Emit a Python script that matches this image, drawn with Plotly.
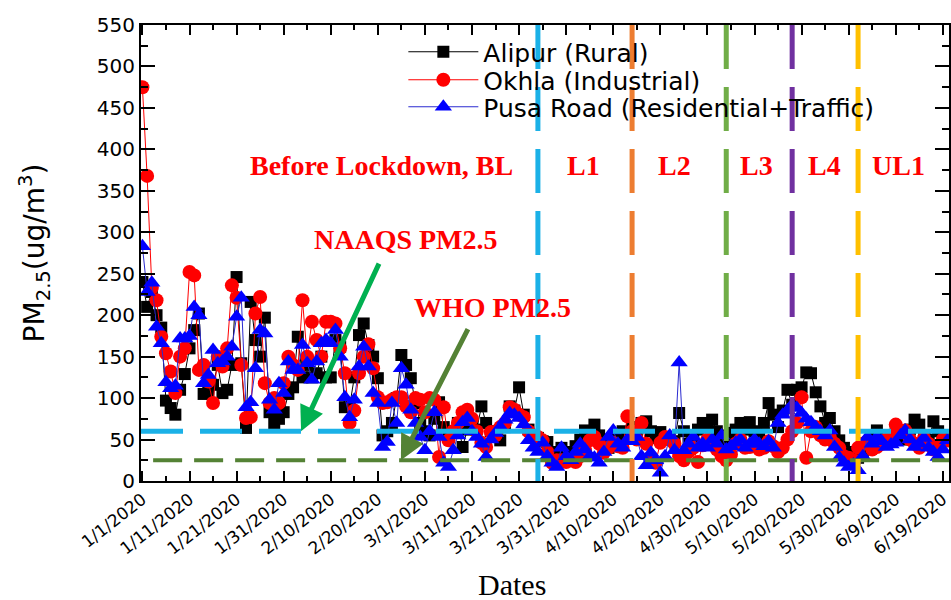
import plotly.graph_objects as go
from datetime import datetime, timedelta

# Daily PM2.5 (ug/m3), 1 Jan 2020 - 20 Jun 2020
START = datetime(2020, 1, 1)
N_DAYS = 172
dates = [START + timedelta(days=i) for i in range(N_DAYS)]

alipur = [
    240, 210, 228, 200, 185, 97, 88, 80, 110, 129,
    160, 182, 202, 105, 106, 116, 140, 106, 110, 140,
    246, 142, 64, 216, 170, 150, 197, 83, 70, 75,
    83, 105, 113, 174, 125, 140, 125, 130, 150, 125,
    125, 170, 162, 89, 90, 125, 176, 190, 164, 150,
    124, 55, 60, 70, 100, 152, 140, 124, 94, 70,
    60, 55, 75, 95, 65, 55, 60, 70, 41, 62,
    70, 62, 90, 70, 60, 55, 49, 65, 90, 85,
    113, 80, 62, 55, 52, 48, 47, 35, 30, 40,
    30, 35, 42, 50, 61, 58, 68, 55, 47, 40,
    45, 52, 60, 55, 65, 58, 70, 72, 60, 52,
    59, 50, 53, 48, 82, 60, 45, 50, 62, 70,
    65, 74, 60, 55, 45, 58, 62, 70, 62, 71,
    60, 55, 70, 94, 80, 65, 85, 110, 92, 110,
    113, 131, 130, 107, 90, 70, 76, 60, 49, 40,
    35, 30, 28, 35, 45, 55, 61, 50, 45, 52,
    60, 55, 50, 62, 74, 68, 55, 50, 72, 60,
    52, 48,
]

okhla = [
    475, 368, 233, 218, 174, 154, 132, 106, 150, 160,
    252, 248, 134, 140, 120, 94, 150, 138, 160, 236,
    221, 140, 76, 77, 202, 222, 118, 94, 100, 94,
    118, 150, 140, 134, 218, 150, 192, 170, 150, 192,
    192, 190, 160, 130, 70, 85, 130, 150, 165, 136,
    101, 94, 95, 98, 101, 101, 90, 83, 100, 98,
    83, 100, 98, 29, 89, 49, 60, 70, 83, 86,
    75, 60, 46, 41, 59, 55, 65, 70, 89, 86,
    80, 77, 60, 55, 53, 49, 35, 22, 25, 25,
    23, 25, 23, 30, 37, 49, 53, 45, 34, 40,
    46, 42, 40, 78, 60, 50, 70, 45, 29, 22,
    46, 53, 50, 45, 30, 25, 35, 40, 23, 43,
    50, 45, 38, 30, 25, 32, 45, 50, 40, 41,
    45, 38, 40, 48, 42, 35, 40, 50, 60, 70,
    101, 28, 60, 65, 55, 50, 53, 45, 40, 30,
    28, 25, 40, 45, 48, 38, 41, 45, 50, 55,
    68, 60, 61, 50, 45, 40, 52, 45, 38, 42,
    50, 49,
]

pusa = [
    283, 228, 239, 186, 166, 119, 112, 115, 172, 172,
    175, 210, 200, 118, 128, 158, 142, 144, 150, 162,
    198, 221, 89, 95, 136, 182, 178, 98, 86, 118,
    106, 144, 134, 134, 164, 142, 122, 144, 166, 170,
    166, 182, 150, 101, 77, 98, 138, 162, 138, 106,
    94, 41, 47, 94, 70, 136, 116, 86, 70, 53,
    37, 60, 83, 53, 22, 17, 37, 55, 71, 76,
    60, 53, 45, 29, 50, 58, 65, 74, 82, 80,
    76, 68, 49, 40, 35, 46, 30, 22, 17, 40,
    30, 25, 35, 45, 38, 30, 28, 22, 35, 53,
    61, 45, 40, 50, 48, 53, 30, 19, 34, 25,
    10, 30, 55, 37, 143, 37, 45, 53, 40, 45,
    40, 50, 45, 55, 38, 42, 46, 50, 40, 45,
    50, 45, 42, 48, 40, 70, 80, 85, 92, 88,
    82, 75, 71, 65, 60, 55, 61, 41, 28, 22,
    17, 20, 13, 30, 53, 45, 53, 48, 41, 44,
    46, 55, 61, 50, 41, 45, 52, 40, 35, 29,
    38, 49,
]

series_names = ["Alipur (Rural)", "Okhla (Industrial)", "Pusa Road (Residential+Traffic)"]

# Air-quality standards (ug/m3)
naaqs_pm25 = 60
who_pm25 = 25

# Phase boundaries: lockdown 1-4 and unlock 1
phase_starts = ["2020-03-25", "2020-04-14", "2020-05-04", "2020-05-18", "2020-06-01"]
phase_colors = ["#1bb1e7", "#ed7d31", "#70ad47", "#7030a0", "#ffc000"]
phase_labels = ["L1", "L2", "L3", "L4", "UL1"]
phase_label_days = [93.6, 113.1, 130.5, 144.9, 160.6]

SANS = "DejaVu Sans"
SERIF = "Liberation Serif"

# Plot-area geometry (px) used to place the legend rows and text labels
PLOT_TOP, PLOT_BOTTOM, PLOT_LEFT, PLOT_W = 25, 481, 141, 810


def day(d):
    return (START + timedelta(days=d)).strftime("%Y-%m-%d %H:%M:%S")


def py(p):
    return (PLOT_BOTTOM - p) / (PLOT_BOTTOM - PLOT_TOP)


def px(p):
    return (p - PLOT_LEFT) / PLOT_W


x_lo = START - timedelta(days=0.3)
x_hi = x_lo + timedelta(days=PLOT_W / 4.72)

fig = go.Figure()

styles = [
    dict(color="#000000", symbol="square", size=12, line="#000000"),
    dict(color="#ff0000", symbol="circle", size=14, line="#ff0000"),
    dict(color="#0000ff", symbol="triangle-up", size=15, line="#2b2bd0"),
]
legend_ids = ["legend", "legend2", "legend3"]
for name, vals, st, lg in zip(series_names, [alipur, okhla, pusa], styles, legend_ids):
    fig.add_trace(go.Scatter(
        x=dates, y=vals, name=name, mode="lines+markers", legend=lg,
        line=dict(color=st["line"], width=1),
        marker=dict(symbol=st["symbol"], size=st["size"], color=st["color"],
                    line=dict(width=0)),
    ))

shapes = []
# Standard lines
shapes.append(dict(type="line", xref="paper", yref="y", x0=0, x1=1,
                   y0=naaqs_pm25, y1=naaqs_pm25, layer="above",
                   line=dict(color="#1bb1e7", width=5, dash="42px,17px")))
shapes.append(dict(type="line", xref="paper", yref="y", x0=0.015, x1=1,
                   y0=who_pm25, y1=who_pm25, layer="above",
                   line=dict(color="#548235", width=4, dash="29px,12px")))
# Phase boundaries
for xd, col in zip(phase_starts, phase_colors):
    shapes.append(dict(type="line", xref="x", yref="paper", x0=xd, x1=xd,
                       y0=1, y1=0, layer="above",
                       line=dict(color=col, width=5, dash="44px,18px")))

annotations = []
red_font = dict(family=SERIF, size=28, color="#ff0000")
annotations.append(dict(x=day(50.8), y=381, xref="x", yref="y",
                        text="<b>Before Lockdown, BL</b>", showarrow=False, font=red_font))
for lab, d in zip(phase_labels, phase_label_days):
    annotations.append(dict(x=day(d), y=381, xref="x", yref="y",
                            text=f"<b>{lab}</b>", showarrow=False, font=red_font))
annotations.append(dict(x=day(55.9), y=291, xref="x", yref="y",
                        text="<b>NAAQS PM2.5</b>", showarrow=False, font=red_font))
annotations.append(dict(x=day(74.4), y=209, xref="x", yref="y",
                        text="<b>WHO PM2.5</b>", showarrow=False, font=red_font))
# Arrows pointing at the standard lines
annotations.append(dict(x=day(33.7), y=naaqs_pm25, ax=day(50.4), ay=264,
                        xref="x", yref="y", axref="x", ayref="y", text="",
                        showarrow=True, arrowhead=2, arrowsize=1.0, arrowwidth=5,
                        arrowcolor="#00b050"))
annotations.append(dict(x=day(54.9), y=who_pm25, ax=day(69.3), ay=185,
                        xref="x", yref="y", axref="x", ayref="y", text="",
                        showarrow=True, arrowhead=2, arrowsize=1.0, arrowwidth=5,
                        arrowcolor="#548235"))
# x-axis title
annotations.append(dict(x=px(513), y=py(584), xref="paper", yref="paper",
                        xanchor="center", yanchor="middle",
                        text="Dates", showarrow=False,
                        font=dict(family=SERIF, size=30, color="black")))

legend_style = dict(xanchor="left", yanchor="middle", bgcolor="rgba(0,0,0,0)",
                    font=dict(family=SANS, size=25), itemwidth=70)
legend_rows = [52, 80, 107]

fig.update_layout(
    width=951, height=600, autosize=False,
    margin=dict(l=PLOT_LEFT, r=0, t=PLOT_TOP, b=600 - PLOT_BOTTOM),
    paper_bgcolor="white", plot_bgcolor="white",
    font=dict(family=SANS, color="black"),
    shapes=shapes, annotations=annotations,
    legend=dict(x=px(404), y=py(legend_rows[0]), **legend_style),
    legend2=dict(x=px(404), y=py(legend_rows[1]), **legend_style),
    legend3=dict(x=px(404), y=py(legend_rows[2]), **legend_style),
    showlegend=True,
)

fig.update_xaxes(
    type="date", range=[x_lo, x_hi],
    tick0="2020-01-01", dtick=10 * 86400000, tickformat="%-m/%-d/%Y",
    tickangle=-38, tickfont=dict(family=SANS, size=17),
    ticks="inside", ticklen=10, tickwidth=2, tickcolor="black",
    minor=dict(tick0="2020-01-01", dtick=5 * 86400000, ticks="inside",
               ticklen=5, tickwidth=2, tickcolor="black"),
    showline=True, linewidth=2, linecolor="black", mirror="ticks",
    showgrid=False, zeroline=False,
)
fig.update_yaxes(
    range=[0, 550], dtick=50, tick0=0,
    tickfont=dict(family=SANS, size=20),
    ticks="inside", ticklen=14, tickwidth=2, tickcolor="black",
    minor=dict(dtick=25, ticks="inside", ticklen=7, tickwidth=2, tickcolor="black"),
    showline=True, linewidth=2, linecolor="black", mirror="ticks",
    showgrid=False, zeroline=False,
    title=dict(text="PM<sub>2.5</sub>(ug/m<sup>3</sup>)",
               font=dict(family=SANS, size=28), standoff=44),
)

fig.write_html("out.html")
